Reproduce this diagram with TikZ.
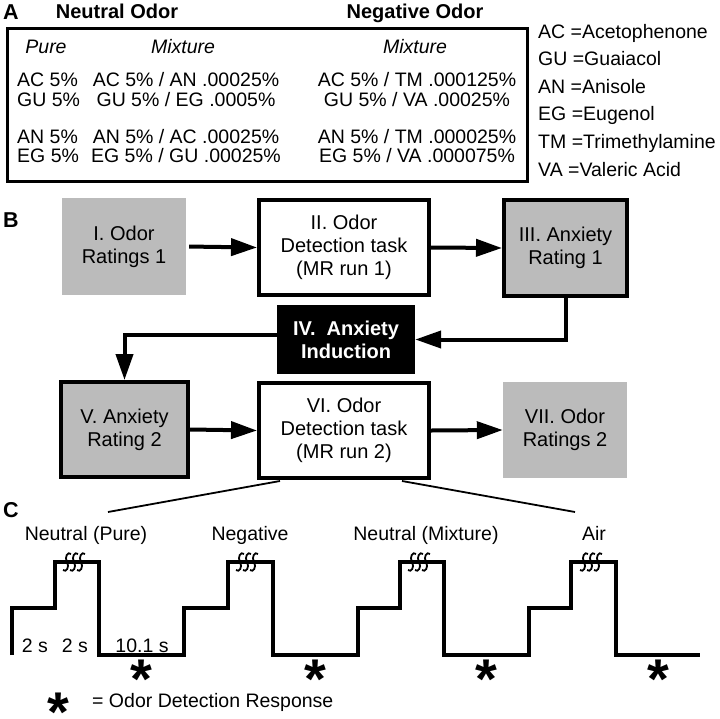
\documentclass[tikz,border=0pt]{standalone}
\usepackage{fontspec}
\setmainfont{Liberation Sans}
\usetikzlibrary{arrows.meta}
\definecolor{boxgray}{RGB}{187,187,187}
\begin{document}
\begin{tikzpicture}[x=1pt,y=-1pt,
  txt/.style={inner sep=0pt, font=\fontsize{19.5}{23}\selectfont},
  itx/.style={inner sep=0pt, font=\fontsize{19.5}{23}\selectfont\itshape, anchor=base},
  hd/.style={inner sep=0pt, font=\fontsize{20}{24}\selectfont\bfseries, anchor=base},
  lbl/.style={inner sep=0pt, font=\fontsize{21.5}{24}\selectfont\bfseries, anchor=base west},
  plainbox/.style={fill=boxgray, inner sep=0pt, align=center, font=\fontsize{20}{23}\selectfont},
  framebox/.style={fill=boxgray, draw=black, line width=4pt, inner sep=0pt, align=center, font=\fontsize{20}{23}\selectfont},
  whitebox/.style={fill=white, draw=black, line width=4pt, inner sep=0pt, align=center, font=\fontsize{20}{23}\selectfont},
  blackbox/.style={fill=black, text=white, inner sep=0pt, align=center, font=\fontsize{20}{23}\selectfont\bfseries},
  flow/.style={line width=4pt, -{Triangle[length=26pt,width=17pt]}},
  wave/.style={line width=4pt, line join=miter},
  zoomline/.style={line width=1.8pt},
  ast/.style={inner sep=0pt, font=\fontsize{56}{56}\selectfont\bfseries, text height=18pt, text depth=0pt},
  steam/.pic={\foreach \dx in {-7,0,7}{\draw[line width=1.8pt] (\dx+4,-8) .. controls (\dx+1,-11) and (\dx-3,-5) .. (\dx,0) .. controls (\dx+3,5) and (\dx-1,11) .. (\dx-4,8);}}
]
\useasboundingbox (0,0) rectangle (720,718);

% ---------- Panel A ----------
\node[lbl] (la) at (3,19) {A};
\node[hd] (hn) at (117,18) {Neutral Odor};
\node[hd] (hg) at (415,18) {Negative Odor};
\draw[line width=3pt] (7,28) rectangle (527,181);
\node[itx] (pure) at (46,53) {Pure};
\node[itx] (mix1) at (183,53) {Mixture};
\node[itx] (mix2) at (415,53) {Mixture};

\node[txt, anchor=base west] (p1) at (17,86) {AC 5\%};
\node[txt, anchor=base west] (p2) at (17,106.5) {GU 5\%};
\node[txt, anchor=base west] (p3) at (17,143) {AN 5\%};
\node[txt, anchor=base west] (p4) at (17,162) {EG 5\%};

\node[txt, anchor=base] (m1) at (186,86) {AC 5\% / AN .00025\%};
\node[txt, anchor=base] (m2) at (186,106.5) {GU 5\% / EG .0005\%};
\node[txt, anchor=base] (m3) at (186,143) {AN 5\% / AC .00025\%};
\node[txt, anchor=base] (m4) at (186,162) {EG 5\% / GU .00025\%};

\node[txt, anchor=base] (n1) at (417,86) {AC 5\% / TM .000125\%};
\node[txt, anchor=base] (n2) at (417,106.5) {GU 5\% / VA .00025\%};
\node[txt, anchor=base] (n3) at (417,143) {AN 5\% / TM .000025\%};
\node[txt, anchor=base] (n4) at (417,162) {EG 5\% / VA .000075\%};

\node[txt, anchor=base west] (k1) at (538,38) {AC =Acetophenone};
\node[txt, anchor=base west] (k2) at (538,65.5) {GU =Guaiacol};
\node[txt, anchor=base west] (k3) at (538,93) {AN =Anisole};
\node[txt, anchor=base west] (k4) at (538,120.5) {EG =Eugenol};
\node[txt, anchor=base west] (k5) at (538,148) {TM =Trimethylamine};
\node[txt, anchor=base west] (k6) at (538,176) {VA =Valeric Acid};

% ---------- Panel B ----------
\node[lbl] (lb) at (3,227) {B};
\node[plainbox, minimum width=124pt, minimum height=97pt] (s1) at (124,246.5) {I. Odor\\Ratings 1};
\node[whitebox, minimum width=170pt, minimum height=95pt] (s2) at (344,247.5) {II. Odor\\Detection task\\(MR run 1)};
\node[framebox, minimum width=123pt, minimum height=96pt] (s3) at (565.5,248) {III. Anxiety\\Rating 1};
\node[blackbox, minimum width=138pt, minimum height=69pt] (s4) at (346,339.5) {IV.\ \ Anxiety\\Induction};
\node[framebox, minimum width=127pt, minimum height=95pt] (s5) at (124.5,429.5) {V. Anxiety\\Rating 2};
\node[whitebox, minimum width=170pt, minimum height=95pt] (s6) at (344,430.5) {VI. Odor\\Detection task\\(MR run 2)};
\node[plainbox, minimum width=124pt, minimum height=96pt] (s7) at (565,430) {VII. Odor\\Ratings 2};

\draw[flow, shorten <=3pt] (s1.east) -- (s2.west);
\draw[flow] (s2.east) -- (s3.west);
\draw[flow] (s3.south) |- (s4.east);
\draw[flow] ([yshift=4.5pt]s4.west) -| (s5.north);
\draw[flow] (s5.east) -- (s6.west);
\draw[flow] (s6.east) -- (s7.west);

% zoom lines
\coordinate (zl) at (108,512);
\coordinate (zr) at (575,512);
\draw[zoomline] ([xshift=-64pt,yshift=-1pt]s6.south) -- (zl);
\draw[zoomline] ([xshift=58pt,yshift=-1pt]s6.south) -- (zr);

% ---------- Panel C ----------
\node[lbl] (lc) at (3,517) {C};
\node[txt, anchor=base] (c1) at (86,540) {Neutral (Pure)};
\node[txt, anchor=base] (c2) at (250,540) {Negative};
\node[txt, anchor=base] (c3) at (426,540) {Neutral (Mixture)};
\node[txt, anchor=base] (c4) at (594,540) {Air};

\draw[wave] (12,655) -- (12,608) -- (55,608) -- (55,562) -- (99,562) -- (99,655)
  -- (184,655) -- (184,608) -- (228,608) -- (228,562) -- (273,562) -- (273,655)
  -- (358,655) -- (358,608) -- (400,608) -- (400,562) -- (444,562) -- (444,655)
  -- (529,655) -- (529,608) -- (571,608) -- (571,562) -- (616,562) -- (616,655)
  -- (700,655);

\pic at (74,562) {steam};
\pic at (247,562) {steam};
\pic at (419,562) {steam};
\pic at (591,562) {steam};

\node[txt, anchor=base] (t1) at (35,652) {2 s};
\node[txt, anchor=base] (t2) at (75,652) {2 s};
\node[txt, anchor=base] (t3) at (142,652) {10.1 s};

\node[ast] (a1) at (141,673) {\raisebox{-16.2pt}{*}};
\node[ast] (a2) at (315,673) {\raisebox{-16.2pt}{*}};
\node[ast] (a3) at (486,673) {\raisebox{-16.2pt}{*}};
\node[ast] (a4) at (658,673) {\raisebox{-16.2pt}{*}};

\node[ast] (a5) at (58,706) {\raisebox{-16.2pt}{*}};
\node[txt, anchor=base west] (leg) at (92,707) {= Odor Detection Response};
\end{tikzpicture}
\end{document}
